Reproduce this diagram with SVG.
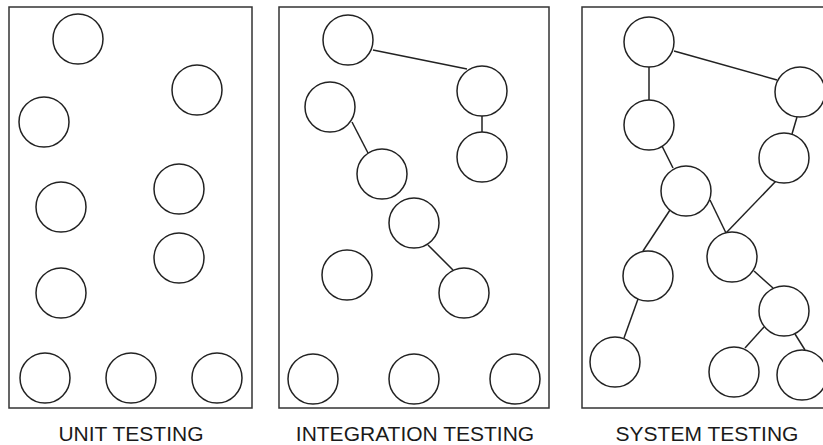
<svg xmlns="http://www.w3.org/2000/svg" width="823" height="445" viewBox="0 0 823 445">
<style>
.panel{fill:#fff;stroke:#333;stroke-width:1.5}
.node{fill:#fff;stroke:#222;stroke-width:1.5}
.conn line{stroke:#222;stroke-width:1.5}
.label{font-family:"Liberation Sans",Arial,sans-serif;font-size:21px;fill:#1a1a1a;text-anchor:middle}
</style>
<rect width="823" height="445" fill="#fff"/>
<g id="panels">
<rect class="panel" x="9" y="7" width="243" height="401"/>
<rect class="panel" x="279" y="7" width="270" height="401"/>
<rect class="panel" x="582" y="7" width="260" height="401"/>
</g>
<g id="connectors" class="conn">
<line x1="373" y1="50" x2="467" y2="69"/>
<line x1="482" y1="116" x2="482" y2="132"/>
<line x1="352" y1="122" x2="368" y2="153"/>
<line x1="428" y1="245" x2="453" y2="270"/>
<line x1="674" y1="51" x2="777" y2="80"/>
<line x1="649" y1="67" x2="649" y2="100"/>
<line x1="662" y1="146" x2="673" y2="168"/>
<line x1="797" y1="117" x2="792" y2="134"/>
<line x1="776" y1="181" x2="726" y2="233"/>
<line x1="710" y1="200" x2="726" y2="233"/>
<line x1="670" y1="210" x2="643" y2="251"/>
<line x1="638" y1="299" x2="624" y2="338"/>
<line x1="754" y1="271" x2="773" y2="288"/>
<line x1="764" y1="327" x2="745" y2="348"/>
<line x1="795" y1="334" x2="805" y2="350"/>
</g>
<g id="unit">
<circle id="u1" class="node" cx="78" cy="39" r="25"/>
<circle id="u2" class="node" cx="197" cy="90" r="25"/>
<circle id="u3" class="node" cx="44" cy="122" r="25"/>
<circle id="u4" class="node" cx="179" cy="189" r="25"/>
<circle id="u5" class="node" cx="61" cy="207" r="25"/>
<circle id="u6" class="node" cx="179" cy="258" r="25"/>
<circle id="u7" class="node" cx="61" cy="293" r="25"/>
<circle id="u8" class="node" cx="45" cy="378" r="25"/>
<circle id="u9" class="node" cx="131" cy="378" r="25"/>
<circle id="u10" class="node" cx="217" cy="378" r="25"/>
</g>
<g id="integration">
<circle id="i1" class="node" cx="348" cy="40" r="25"/>
<circle id="i2" class="node" cx="482" cy="91" r="25"/>
<circle id="i3" class="node" cx="330" cy="107" r="25"/>
<circle id="i4" class="node" cx="482" cy="157" r="25"/>
<circle id="i5" class="node" cx="382" cy="174" r="25"/>
<circle id="i6" class="node" cx="414" cy="223" r="25"/>
<circle id="i7" class="node" cx="347" cy="275" r="25"/>
<circle id="i8" class="node" cx="464" cy="293" r="25"/>
<circle id="i9" class="node" cx="313" cy="379" r="25"/>
<circle id="i10" class="node" cx="414" cy="379" r="25"/>
<circle id="i11" class="node" cx="515" cy="379" r="25"/>
</g>
<g id="system">
<circle id="s1" class="node" cx="649" cy="42" r="25"/>
<circle id="s2" class="node" cx="800" cy="92" r="25"/>
<circle id="s3" class="node" cx="649" cy="125" r="25"/>
<circle id="s4" class="node" cx="784" cy="158" r="25"/>
<circle id="s5" class="node" cx="686" cy="191" r="25"/>
<circle id="s6" class="node" cx="732" cy="257" r="25"/>
<circle id="s7" class="node" cx="648" cy="276" r="25"/>
<circle id="s8" class="node" cx="784" cy="311" r="25"/>
<circle id="s9" class="node" cx="615" cy="362" r="25"/>
<circle id="s10" class="node" cx="734" cy="372" r="25"/>
<circle id="s11" class="node" cx="802" cy="375" r="25"/>
</g>
<g id="labels">
<text class="label" x="131" y="441">UNIT TESTING</text>
<text class="label" x="415" y="441">INTEGRATION TESTING</text>
<text class="label" x="707" y="441">SYSTEM TESTING</text>
</g>
</svg>
